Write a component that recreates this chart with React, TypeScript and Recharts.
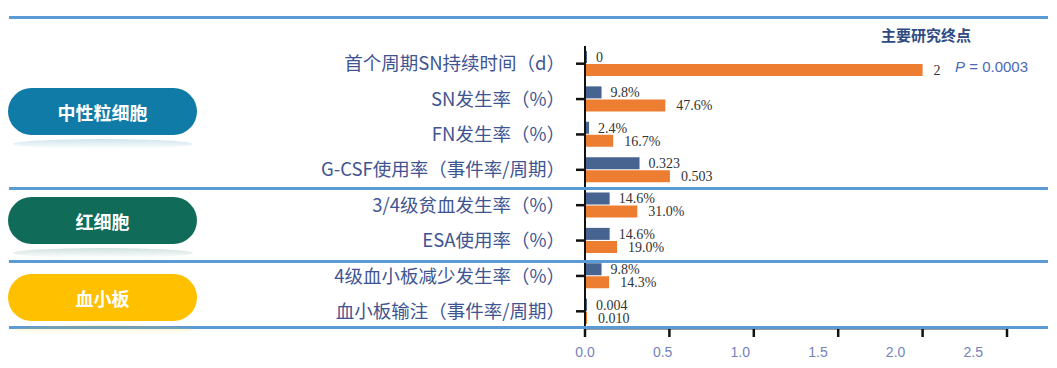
import React from 'react';
import { BarChart, Bar, XAxis, YAxis, LabelList } from 'recharts';

const categories = [
  '首个周期SN持续时间（d）',
  'SN发生率（%）',
  'FN发生率（%）',
  'G-CSF使用率（事件率/周期）',
  '3/4级贫血发生率（%）',
  'ESA使用率（%）',
  '4级血小板减少发生率（%）',
  '血小板输注（事件率/周期）',
];
const blueValues = [0, 0.098, 0.024, 0.323, 0.146, 0.146, 0.098, 0.004];
const orangeValues = [2, 0.476, 0.167, 0.503, 0.31, 0.19, 0.143, 0.01];
const blueLabels = ['0', '9.8%', '2.4%', '0.323', '14.6%', '14.6%', '9.8%', '0.004'];
const orangeLabels = ['2', '47.6%', '16.7%', '0.503', '31.0%', '19.0%', '14.3%', '0.010'];
const xTicks = [0, 0.5, 1, 1.5, 2, 2.5];

const groups = [
  { name: '中性粒细胞', color: '#117BA8' },
  { name: '红细胞', color: '#116B59' },
  { name: '血小板', color: '#FFC000' },
];
const endpointTitle = '主要研究终点';
const pValue = '0.0003';

const data = categories.map((c, i) => ({
  name: c,
  blue: blueValues[i],
  orange: orangeValues[i],
  blueLabel: blueLabels[i],
  orangeLabel: orangeLabels[i],
}));

const XTick = (props: any) => {
  const { x, y, payload } = props;
  const v = Number(payload.value);
  return (
    <text
      x={x - 13.5 * v}
      y={y}
      dy="0.71em"
      textAnchor="middle"
      fill="#7383BC"
      fontSize={14}
      fontFamily="Liberation Sans, Arial, sans-serif"
    >
      {v.toFixed(1)}
    </text>
  );
};

const lineYs = [17, 188, 261, 327];
const badgeTops = [88, 197, 274];

export default function App() {
  return (
    <div
      style={{
        position: 'absolute',
        left: 0,
        top: 0,
        width: 1057,
        height: 368,
        background: '#fff',
        overflow: 'hidden',
      }}
    >
      <BarChart
        width={1057}
        height={368}
        data={data}
        layout="vertical"
        margin={{ top: 46, right: 50, bottom: 9, left: 0 }}
        barSize={12}
        barGap={1}
      >
        <XAxis
          type="number"
          domain={[0, 2.5]}
          ticks={xTicks}
          height={30}
          axisLine={{ stroke: '#9a9a9a', strokeWidth: 2 }}
          tickLine={{ stroke: '#111', strokeWidth: 2.5 }}
          tickSize={8}
          tickMargin={10}
          tick={<XTick />}
          allowDataOverflow
        />
        <YAxis
          type="category"
          dataKey="name"
          width={585}
          axisLine={{ stroke: '#111', strokeWidth: 2 }}
          tickLine={{ stroke: '#111', strokeWidth: 2.5 }}
          tickSize={9}
          tickMargin={11}
          tick={{
            fill: '#3F5591',
            fontSize: 18.5,
            fontFamily: 'Noto Sans CJK SC, sans-serif',
          }}
          interval={0}
        />
        <Bar dataKey="blue" fill="#476390" minPointSize={2} isAnimationActive={false}>
          <LabelList
            dataKey="blueLabel"
            position="right"
            offset={9}
            fill="#333"
            fontSize={14}
            fontFamily="Liberation Serif, Times New Roman, serif"
          />
        </Bar>
        <Bar dataKey="orange" fill="#ED7D31" minPointSize={2} isAnimationActive={false}>
          <LabelList
            dataKey="orangeLabel"
            position="right"
            offset={11}
            fill="#333"
            fontSize={14}
            fontFamily="Liberation Serif, Times New Roman, serif"
          />
        </Bar>
      </BarChart>

      {lineYs.map((y, i) => (
        <div
          key={'l' + i}
          style={{
            position: 'absolute',
            left: 9,
            top: y - 1.5,
            width: 1039,
            height: 3,
            background: '#5B9BD5',
          }}
        />
      ))}

      {groups.map((g, i) => (
        <React.Fragment key={'g' + i}>
          <div
            style={{
              position: 'absolute',
              left: 13,
              top: badgeTops[i] + 51,
              width: 180,
              height: 10,
              borderRadius: '50%',
              background: `linear-gradient(to bottom, ${g.color}33, ${g.color}00)`,
            }}
          />
          <div
            style={{
              position: 'absolute',
              left: 8,
              top: badgeTops[i],
              width: 189,
              height: 47,
              borderRadius: 24,
              background: g.color,
              color: '#fff',
              fontFamily: 'Noto Sans CJK SC, sans-serif',
              fontWeight: 700,
              fontSize: 18,
              display: 'flex',
              alignItems: 'center',
              justifyContent: 'center',
            }}
          >
            {g.name}
          </div>
        </React.Fragment>
      ))}

      <div
        style={{
          position: 'absolute',
          left: 881,
          top: 24,
          fontFamily: 'Noto Sans CJK SC, sans-serif',
          fontWeight: 700,
          fontSize: 15,
          lineHeight: '22px',
          color: '#2F4A7F',
          whiteSpace: 'nowrap',
        }}
      >
        {endpointTitle}
      </div>
      <div
        style={{
          position: 'absolute',
          left: 955,
          top: 58,
          fontFamily: 'Liberation Sans, Arial, sans-serif',
          fontSize: 15,
          lineHeight: '18px',
          color: '#4A6AB5',
          whiteSpace: 'nowrap',
        }}
      >
        <span style={{ fontStyle: 'italic' }}>P</span> = {pValue}
      </div>
    </div>
  );
}
